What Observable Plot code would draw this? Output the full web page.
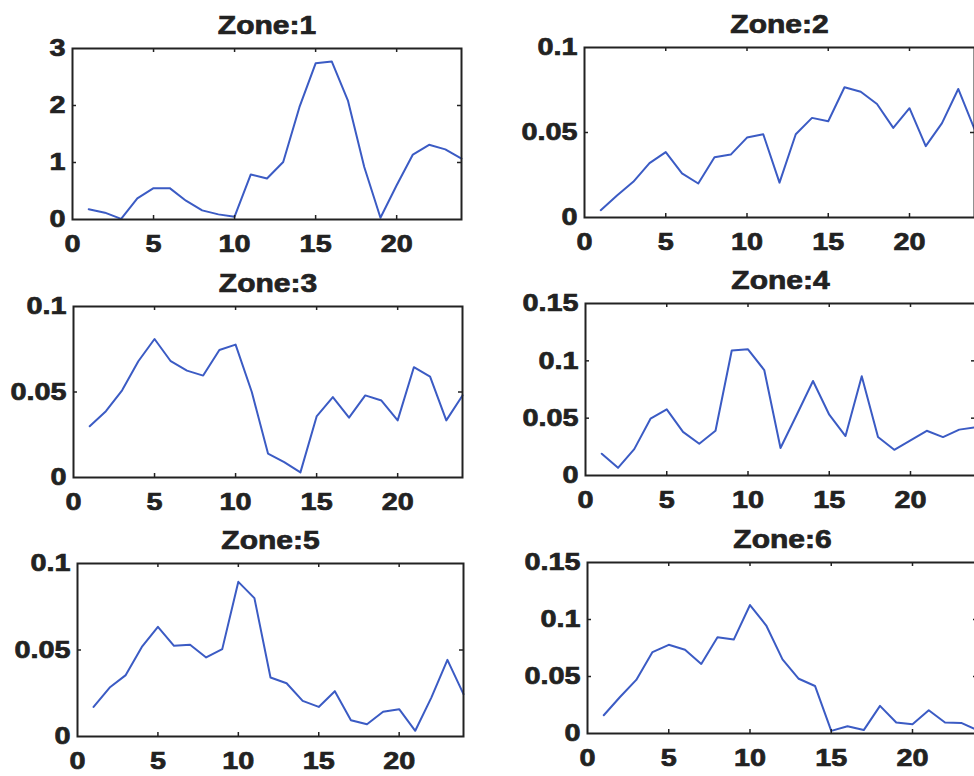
<!DOCTYPE html>
<html>
<head>
<meta charset="utf-8">
<script src="https://cdn.jsdelivr.net/npm/d3@7"></script>
<script src="https://cdn.jsdelivr.net/npm/@observablehq/plot@0.6"></script>
<style>
  html, body { margin: 0; padding: 0; background: #fff; }
  #figure { position: relative; width: 974px; height: 776px; overflow: hidden; background: #fff; }
  #figure svg { position: absolute; overflow: visible; }
</style>
</head>
<body>
<div id="figure"></div>
<script>
// Hour of day (x) and the per-zone series
const hours = [1, 2, 3, 4, 5, 6, 7, 8, 9, 10, 11, 12, 13, 14, 15, 16, 17, 18, 19, 20, 21, 22, 23, 24];
const zone1 = [0.18, 0.12, 0.01, 0.37, 0.55, 0.55, 0.33, 0.16, 0.09, 0.05, 0.79, 0.72, 1.01, 1.97, 2.74, 2.77, 2.08, 0.92, 0.03, 0.60, 1.14, 1.31, 1.23, 1.07];
const zone2 = [0.0043, 0.013, 0.021, 0.032, 0.0385, 0.026, 0.020, 0.0355, 0.037, 0.047, 0.049, 0.0205, 0.049, 0.0586, 0.0566, 0.0766, 0.074, 0.0668, 0.0527, 0.0643, 0.042, 0.0555, 0.0756, 0.052];
const zone3 = [0.030, 0.0388, 0.051, 0.068, 0.081, 0.068, 0.0625, 0.0596, 0.0746, 0.0777, 0.050, 0.014, 0.009, 0.003, 0.0357, 0.047, 0.035, 0.048, 0.045, 0.0334, 0.0645, 0.059, 0.0334, 0.048];
const zone4 = [0.019, 0.0067, 0.023, 0.0495, 0.0577, 0.038, 0.0277, 0.039, 0.109, 0.110, 0.092, 0.024, 0.053, 0.0824, 0.053, 0.0344, 0.0865, 0.0335, 0.0224, 0.0306, 0.039, 0.0335, 0.040, 0.042];
const zone5 = [0.0171, 0.0283, 0.0355, 0.0518, 0.0634, 0.0524, 0.053, 0.0457, 0.0505, 0.0894, 0.080, 0.0341, 0.0308, 0.0206, 0.0171, 0.0262, 0.0094, 0.0071, 0.0143, 0.0158, 0.0033, 0.0225, 0.0443, 0.0245];
const zone6 = [0.016, 0.032, 0.047, 0.0714, 0.0778, 0.0734, 0.061, 0.0845, 0.0824, 0.1127, 0.0947, 0.065, 0.048, 0.0417, 0.0023, 0.0064, 0.003, 0.0242, 0.0096, 0.0082, 0.0204, 0.0096, 0.0093, 0.003];

const titles = ["Zone:1", "Zone:2", "Zone:3", "Zone:4", "Zone:5", "Zone:6"];
const xTicks = [0, 5, 10, 15, 20];
const yTicks1 = [0, 1, 2, 3];
const yTicksA = [0, 0.05, 0.1];
const yTicksB = [0, 0.05, 0.1, 0.15];

const series = [zone1, zone2, zone3, zone4, zone5, zone6];
const yTickSets = [yTicks1, yTicksA, yTicksA, yTicksB, yTicksA, yTicksB];

// Axes boxes of the 3 x 2 subplot grid (page pixels)
const boxes = [
  {left: 72, top: 48, width: 389, height: 171},
  {left: 584, top: 47, width: 390, height: 170},
  {left: 73, top: 306, width: 389, height: 171},
  {left: 585, top: 303, width: 390, height: 172},
  {left: 77, top: 563, width: 386, height: 173},
  {left: 587, top: 562, width: 390, height: 171}
];

const M = {left: 80, right: 10, top: 50, bottom: 45};
const lineColor = "#3b5bc4";
const ink = "#222";
const fig = document.getElementById("figure");

series.forEach((values, i) => {
  const box = boxes[i];
  const yt = yTickSets[i];
  const rows = hours.map((h, j) => ({hour: h, value: values[j]}));
  const yMax = yt[yt.length - 1];
  const tick = 4;

  const svg = Plot.plot({
    width: M.left + box.width + M.right,
    height: M.top + box.height + M.bottom,
    marginLeft: M.left,
    marginRight: M.right,
    marginTop: M.top,
    marginBottom: M.bottom,
    style: {fontFamily: "'Liberation Sans', Arial, sans-serif", fontWeight: "bold", color: ink, background: "transparent"},
    x: {domain: [0, 24]},
    y: {domain: [0, yMax]},
    marks: [
      Plot.line(rows, {x: "hour", y: "value", stroke: lineColor, strokeWidth: 2}),
      // inward tick marks on all four sides
      Plot.tickX(xTicks.filter(d => d > 0), {x: d => d, insetTop: box.height - tick, stroke: ink, strokeWidth: 1.5}),
      Plot.tickX(xTicks.filter(d => d > 0), {x: d => d, insetBottom: box.height - tick, stroke: ink, strokeWidth: 1.5}),
      Plot.tickY(yt.slice(1, -1), {y: d => d, insetRight: box.width - tick, stroke: ink, strokeWidth: 1.5}),
      Plot.tickY(yt.slice(1, -1), {y: d => d, insetLeft: box.width - tick, stroke: ink, strokeWidth: 1.5}),
      Plot.frame({stroke: ink, strokeWidth: 2}),
      Plot.axisX({ticks: xTicks, tickSize: 0, tickPadding: 15, tickFormat: d => String(d), fontSize: 24, fontWeight: "bold", fill: ink, label: null}),
      Plot.axisY({ticks: yt, tickSize: 0, tickPadding: 7, tickFormat: d => String(d), fontSize: 24, fontWeight: "bold", fill: ink, label: null}),
      Plot.text([titles[i]], {text: d => d, frameAnchor: "top", lineAnchor: "bottom", dy: -15, fontSize: 25, fontWeight: "bold", fill: ink})
    ]
  });

  // the figure's lettering is set wide and heavy: stretch each label about its anchor
  d3.select(svg).selectAll("text").each(function () {
    const x = +(this.getAttribute("x") || 0);
    const t = this.getAttribute("transform") || "";
    this.setAttribute("transform", `${t} translate(${x},0) scale(1.2,1) translate(${-x},0)`);
    this.setAttribute("stroke", ink);
    this.setAttribute("stroke-width", "0.7");
  });

  svg.style.left = (box.left - M.left) + "px";
  svg.style.top = (box.top - M.top) + "px";
  fig.appendChild(svg);
});
</script>
</body>
</html>
